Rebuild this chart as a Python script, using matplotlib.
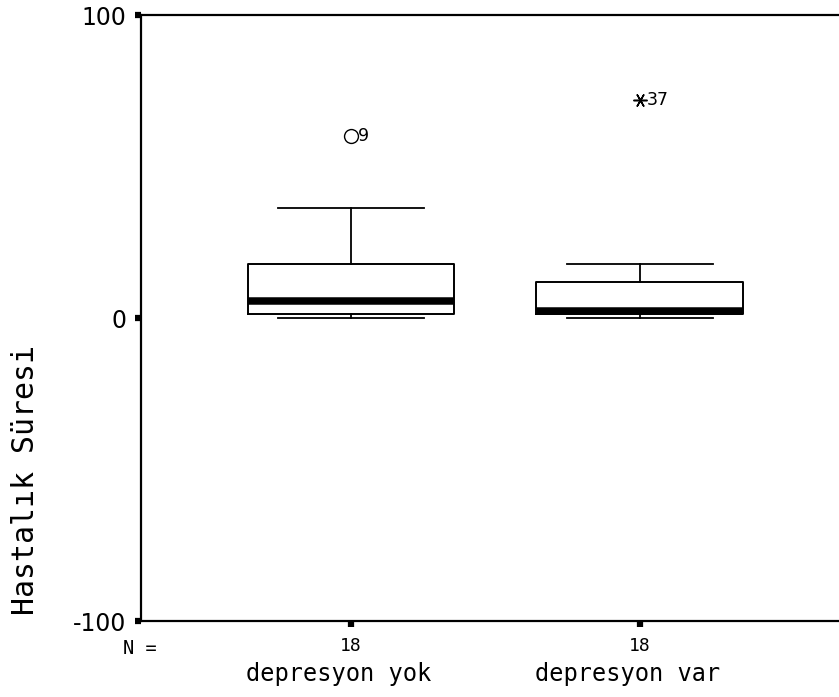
import matplotlib
matplotlib.use("Agg")
import matplotlib.pyplot as plt

# boxplot summary
groups = ["depresyon yok", "depresyon var"]
n_counts = [18, 18]
whis_lo = [0.0, 0.0]
q1 = [1.2, 1.3]
medians = [5.6, 2.3]
q3 = [17.8, 12.0]
whis_hi = [36.4, 18.0]
outliers = [[60.0], [72.0]]
outlier_ids = [["9"], ["37"]]
outlier_marks = ["o", (6, 2, 90)]

plt.rcParams["axes.unicode_minus"] = False
mono = "DejaVu Sans Mono"

fig = plt.figure(figsize=(8.39, 6.97), dpi=100)
ax = fig.add_axes([0.168, 0.109, 0.845, 0.8694])

stats = []
for i in range(len(groups)):
    stats.append({"label": groups[i], "whislo": whis_lo[i], "q1": q1[i], "med": medians[i],
                  "q3": q3[i], "whishi": whis_hi[i], "fliers": outliers[i]})

pos = [1, 2]
art = ax.bxp(stats, positions=pos, widths=0.716, showfliers=True,
             boxprops=dict(color="black", linewidth=1.4),
             medianprops=dict(color="black", linewidth=5.4, solid_capstyle="butt"),
             whiskerprops=dict(color="black", linewidth=1.3),
             capprops=dict(color="black", linewidth=1.3), capwidths=0.505,
             flierprops=dict(markerfacecolor="none", markeredgecolor="black", markersize=10))

for fl, mk in zip(art["fliers"], outlier_marks):
    fl.set_marker(mk)
    if mk != "o":
        fl.set_markersize(10)
        fl.set_markeredgewidth(1.1)

for i in range(len(groups)):
    for v, lab in zip(outliers[i], outlier_ids[i]):
        ax.annotate(lab, (pos[i], v), xytext=(5, 0), textcoords="offset points",
                    ha="left", va="center", fontsize=12.5)

ax.set_xlim(0.273, 2.727)
ax.set_ylim(-100, 100)
ax.set_yticks([-100, 0, 100])
ax.set_xticks(pos)
ax.set_xticklabels([str(n) for n in n_counts], fontfamily=mono, fontsize=13)
ax.tick_params(axis="y", direction="out", length=4.5, width=4.5, pad=6, labelsize=17)
ax.tick_params(axis="x", direction="out", length=4.5, width=4.5, pad=7)
for s in ax.spines.values():
    s.set_linewidth(1.6)

ax.text(-0.025, -0.045, "N =", transform=ax.transAxes, ha="left", va="center",
        fontfamily=mono, fontsize=13.5)
for i in range(len(groups)):
    ax.annotate(groups[i], (pos[i], -100), xytext=(-9, -38), textcoords="offset points",
                ha="center", va="center", fontfamily=mono, fontsize=17, annotation_clip=False)

ax.set_ylabel("Hastalık Süresi", fontfamily=mono, fontsize=21.5)
ax.yaxis.set_label_coords(-0.143, 0.232)

fig.savefig("out.png", dpi=100)
